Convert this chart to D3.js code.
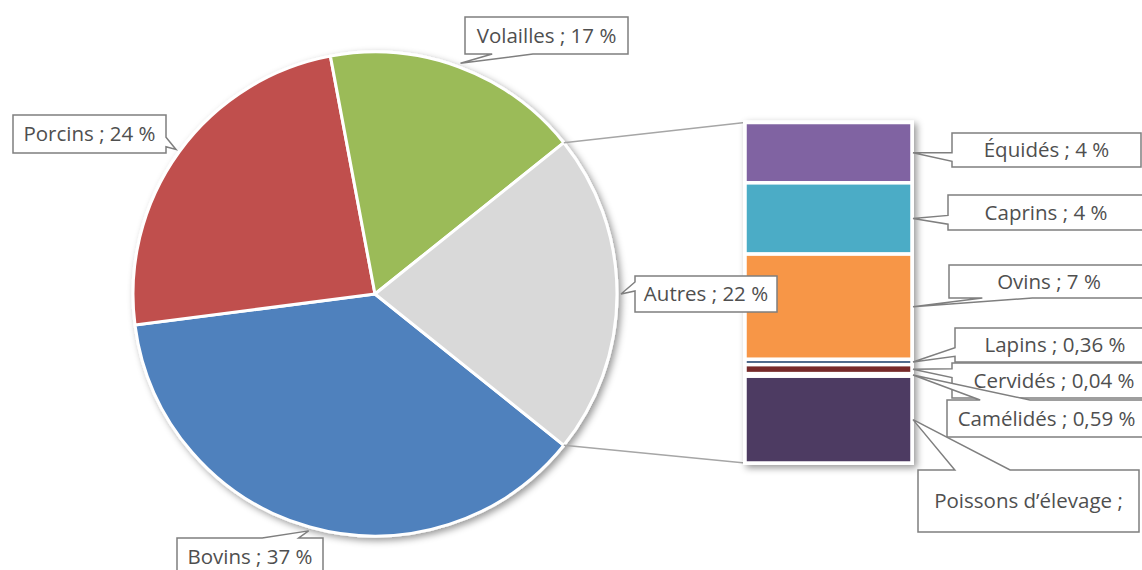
<!DOCTYPE html>
<html>
<head>
<meta charset="utf-8">
<script src="https://cdn.jsdelivr.net/npm/d3@7"></script>
<style>
  body { margin: 0; background: #fff; }
  text { font-family: "Open Sans", sans-serif; }
</style>
</head>
<body>
<div id="chart"></div>
<script>
// main pie
const mainCategories = ["Bovins", "Porcins", "Volailles", "Autres"];
const mainValues = [37.2, 24.1, 17.2, 21.5];
const mainLabels = ["Bovins ; 37 %", "Porcins ; 24 %", "Volailles ; 17 %", "Autres ; 22 %"];

// breakdown of "Autres" (bar on the right)
const subCategories = ["Équidés", "Caprins", "Ovins", "Lapins", "Cervidés", "Camélidés", "Poissons d’élevage"];
const subValues = [3.81, 4.5, 6.65, 0.33, 0.57, 0.16, 5.48];
const subLabels = ["Équidés ; 4 %", "Caprins ; 4 %", "Ovins ; 7 %", "Lapins ; 0,36 %", "Cervidés ; 0,04 %", "Camélidés ; 0,59 %", "Poissons d’élevage ;"];

const mainColors = ["#4F81BD", "#C0504D", "#9BBB59", "#D9D9D9"];
const subColors = ["#8064A2", "#4BACC6", "#F79646", "#2C4D75", "#772C2A", "#5F7530", "#4D3B62"];

// callout boxes [x, y, w, h]
const mainBoxes = [[177, 538, 146, 38], [13, 115, 153, 38], [465, 17, 163, 37], [635, 276, 142, 36]];
const subBoxes = [[952, 133, 189, 34], [948, 195, 196, 35], [949, 265, 200, 33], [955, 328, 200, 34],
                  [952, 363, 204, 35], [947, 400, 199, 37], [918, 470, 221, 62]];

const W = 1142, H = 570;
const cx = 375, cy = 294, R = 242;
const bar = { x: 745, w: 167, top: 122.5, bottom: 463 };

const svg = d3.select("#chart").append("svg")
  .attr("width", W)
  .attr("height", H);

const defs = svg.append("defs");
defs.append("filter")
  .attr("id", "shadow")
  .attr("x", "-10%").attr("y", "-10%")
  .attr("width", "130%").attr("height", "130%")
  .append("feDropShadow")
  .attr("dx", 3).attr("dy", 3)
  .attr("stdDeviation", 3.5)
  .attr("flood-color", "#000")
  .attr("flood-opacity", 0.4);

// pie, rotated so that "Autres" is centred on the right
const total = d3.sum(mainValues);
const autresAngle = 2 * Math.PI * mainValues[3] / total;
const start = Math.PI / 2 + autresAngle / 2;

const pie = d3.pie().sort(null)
  .startAngle(start)
  .endAngle(start + 2 * Math.PI);
const arcs = pie(mainValues);
const arc = d3.arc().innerRadius(0).outerRadius(R);

const pieG = svg.append("g")
  .attr("transform", `translate(${cx},${cy})`)
  .attr("filter", "url(#shadow)");

pieG.selectAll("path")
  .data(arcs)
  .enter().append("path")
  .attr("d", arc)
  .attr("fill", (d, i) => mainColors[i])
  .attr("stroke", "#fff")
  .attr("stroke-width", 3)
  .attr("stroke-linejoin", "round");

const polar = (a, r) => [cx + r * Math.sin(a), cy - r * Math.cos(a)];

// bar of "Autres"
const y = d3.scaleLinear()
  .domain([0, d3.sum(subValues)])
  .range([bar.top, bar.bottom]);
const cum = [0, ...d3.cumsum(subValues)];

// connector lines
const autres = arcs[3];
const p0 = polar(autres.startAngle, R);
const p1 = polar(autres.endAngle, R);
svg.append("g")
  .attr("stroke", "#a6a6a6")
  .attr("stroke-width", 1.5)
  .selectAll("line")
  .data([[p0, [bar.x, y(0)]], [p1, [bar.x, y(cum[cum.length - 1])]]])
  .enter().append("line")
  .attr("x1", d => d[0][0]).attr("y1", d => d[0][1])
  .attr("x2", d => d[1][0]).attr("y2", d => d[1][1]);

const barG = svg.append("g").attr("filter", "url(#shadow)");
barG.append("rect")
  .attr("x", bar.x - 2).attr("y", y(0) - 2)
  .attr("width", bar.w + 4).attr("height", y(cum[cum.length - 1]) - y(0) + 4)
  .attr("fill", "#fff");
barG.selectAll("rect.seg")
  .data(subValues)
  .enter().append("rect")
  .attr("class", "seg")
  .attr("x", bar.x)
  .attr("y", (d, i) => y(cum[i]))
  .attr("width", bar.w)
  .attr("height", (d, i) => y(cum[i + 1]) - y(cum[i]))
  .attr("fill", (d, i) => subColors[i])
  .attr("stroke", "#fff")
  .attr("stroke-width", 3.5);

// callouts (Excel style wedge rectangle)
function calloutPath(b, tip) {
  const [x, yy, w, h] = b;
  const r = x + w, bt = yy + h;
  const dxPos = tip[0] - (x + w / 2), dyPos = tip[1] - (yy + h / 2);
  const dx = dxPos * h / w;
  const x1 = x + w * (dxPos > 0 ? 7 : 2) / 12, x2 = x + w * (dxPos > 0 ? 10 : 5) / 12;
  const y1 = yy + h * (dyPos > 0 ? 7 : 2) / 12, y2 = yy + h * (dyPos > 0 ? 10 : 5) / 12;
  const inside = tip[0] >= x && tip[0] <= r && tip[1] >= yy && tip[1] <= bt;
  let side = null;
  if (!inside) {
    side = Math.abs(dyPos) > Math.abs(dx) ? (dyPos < 0 ? "top" : "bottom") : (dxPos < 0 ? "left" : "right");
  }
  const p = d3.path();
  p.moveTo(x, yy);
  if (side === "top") { p.lineTo(x1, yy); p.lineTo(tip[0], tip[1]); p.lineTo(x2, yy); }
  p.lineTo(r, yy);
  if (side === "right") { p.lineTo(r, y1); p.lineTo(tip[0], tip[1]); p.lineTo(r, y2); }
  p.lineTo(r, bt);
  if (side === "bottom") { p.lineTo(x2, bt); p.lineTo(tip[0], tip[1]); p.lineTo(x1, bt); }
  p.lineTo(x, bt);
  if (side === "left") { p.lineTo(x, y2); p.lineTo(tip[0], tip[1]); p.lineTo(x, y1); }
  p.closePath();
  return p.toString();
}

const labelData = [];
arcs.forEach((a, i) => {
  labelData.push({ text: mainLabels[i], box: mainBoxes[i], tip: polar((a.startAngle + a.endAngle) / 2, R + 4) });
});
subValues.forEach((v, i) => {
  labelData.push({ text: subLabels[i], box: subBoxes[i], tip: [bar.x + bar.w + 1, y((cum[i] + cum[i + 1]) / 2)] });
});

const labels = svg.append("g").selectAll("g")
  .data(labelData)
  .enter().append("g");

labels.append("path")
  .attr("d", d => calloutPath(d.box, d.tip))
  .attr("fill", "#fff")
  .attr("stroke", "#7f7f7f")
  .attr("stroke-width", 1.5)
  .attr("stroke-linejoin", "miter");

labels.append("text")
  .attr("x", d => d.box[0] + d.box[2] / 2)
  .attr("y", d => d.box[1] + d.box[3] / 2)
  .attr("dy", "0.35em")
  .attr("text-anchor", "middle")
  .style("font-size", "20.5px")
  .style("fill", "#4f4f4f")
  .text(d => d.text);
</script>
</body>
</html>
